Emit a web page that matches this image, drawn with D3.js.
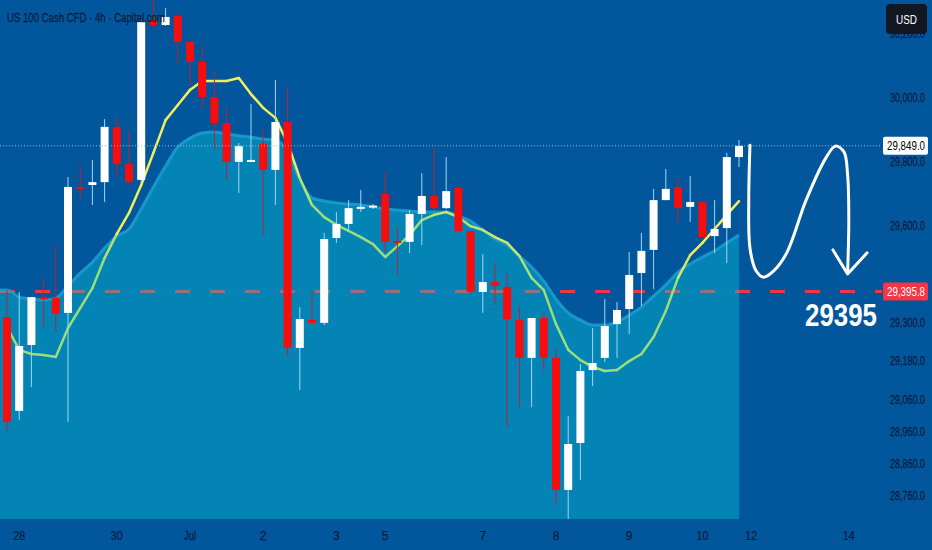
<!DOCTYPE html>
<html>
  <head>
    <meta charset="UTF-8" />
    <style>
      body { margin: 0; background-color: #02569c; overflow: hidden; }
      svg { display: block; }
      text { font-family: "Liberation Sans", Arial, sans-serif; }
    </style>
  </head>
  <body>
    <svg></svg>
    <script src="https://d3js.org/d3.v7.min.js"></script>
    <script>
      // 4h candles, US 100 Cash CFD
      const candleOpen = [29316, 29024, 29229, 29378, 29375, 29329, 29721, 29727, 29736, 29908,
        29792, 29743, 30241, 30225, 30253, 30172, 30110, 30001, 29920, 29799,
        29799, 29855, 29774, 29923, 29220, 29307, 29298, 29562, 29606, 29655,
        29659, 29699, 29553, 29550, 29637, 29693, 29655, 29718, 29584, 29394,
        29425, 29410, 29307, 29189, 29313, 29189, 28778, 28924, 29151, 29189,
        29294, 29341, 29453, 29525, 29680, 29721, 29659, 29674, 29568, 29593, 29814];
      const candleHigh = [29400, 29394, 29378, 29438, 29540, 29752, 29789, 29805, 29932, 29939,
        29895, 30240, 30303, 30278, 30265, 30175, 30163, 30079, 29970, 29858,
        29979, 29898, 30054, 30032, 29347, 29394, 29578, 29643, 29680, 29711,
        29668, 29768, 29596, 29649, 29764, 29845, 29814, 29724, 29584, 29512,
        29481, 29453, 29347, 29313, 29329, 29220, 29008, 29170, 29282, 29372,
        29363, 29519, 29578, 29715, 29777, 29749, 29755, 29674, 29680, 29827, 29867];
      const candleLow = [28958, 28996, 29098, 29285, 29270, 28990, 29680, 29665, 29674, 29749,
        29727, 29735, 30213, 30222, 30107, 30038, 29967, 29836, 29743, 29702,
        29799, 29571, 29665, 29192, 29089, 29291, 29291, 29547, 29587, 29643,
        29652, 29518, 29447, 29515, 29540, 29649, 29652, 29578, 29388, 29329,
        29354, 28974, 29036, 29036, 29151, 28731, 28684, 28809, 29101, 29176,
        29189, 29263, 29350, 29403, 29680, 29609, 29612, 29565, 29515, 29484, 29783];
      const candleClose = [28989, 29226, 29378, 29372, 29326, 29721, 29715, 29736, 29908, 29792,
        29736, 30234, 30225, 30250, 30172, 30110, 30001, 29920, 29799, 29848,
        29805, 29774, 29923, 29220, 29310, 29298, 29559, 29606, 29655, 29659,
        29663, 29550, 29550, 29637, 29693, 29655, 29708, 29584, 29394, 29425,
        29413, 29310, 29189, 29313, 29189, 28778, 28921, 29148, 29173, 29288,
        29338, 29447, 29522, 29680, 29715, 29655, 29674, 29565, 29590, 29814, 29849];

      // fast moving average (yellow / green line)
      const maFast = [29285, 29214, 29201, 29198, 29192, 29282, 29344, 29406, 29500, 29575,
        29640, 29727, 29827, 29929, 29976, 30023, 30051, 30051, 30051, 30060,
        30010, 29967, 29936, 29858, 29749, 29665, 29627, 29603, 29584, 29565,
        29543, 29503, 29537, 29571, 29618, 29634, 29643, 29627, 29599, 29587,
        29565, 29547, 29506, 29438, 29400, 29294, 29214, 29182, 29161, 29148,
        29151, 29179, 29201, 29254, 29335, 29438, 29509, 29547, 29590, 29634, 29677];

      // slow moving average (top of the filled cloud)
      const maSlow = [29400, 29378, 29372, 29369, 29375, 29413, 29453, 29487, 29531, 29568,
        29590, 29652, 29721, 29786, 29845, 29873, 29889, 29892, 29886, 29880,
        29876, 29870, 29867, 29830, 29743, 29687, 29677, 29671, 29668, 29665,
        29659, 29652, 29649, 29646, 29643, 29643, 29643, 29631, 29615, 29587,
        29559, 29540, 29506, 29472, 29428, 29372, 29329, 29307, 29291, 29291,
        29301, 29322, 29347, 29382, 29416, 29456, 29481, 29503, 29522, 29547, 29571];

      const dayLabels = ["28", "30", "Jul", "2", "3", "5", "7", "8", "9", "10", "12", "14"];
      const dayIndex = [1, 9, 15, 21, 27, 31, 39, 45, 51, 57, 61, 69];
      const priceTicks = [30200, 30000, 29800, 29600, 29300, 29180, 29060, 28960, 28860, 28760];

      const lastPrice = 29849.0;
      const targetLevel = 29395.8;
      const targetText = "29395";

      // hand drawn projection, [bar index, price]
      const drawIdx = [60.9, 60.8, 60.9, 61.4, 62.0, 62.8, 63.9, 65.5, 67.1, 67.9, 68.6, 68.9, 69.0, 68.9];
      const drawPrice = [29851, 29680, 29530, 29460, 29440, 29458, 29515, 29680, 29810, 29848, 29830, 29760, 29620, 29453];
      const arrowIdx = [67.7, 68.9, 70.5];
      const arrowPrice = [29525, 29450, 29516];

      const width = 932,
        height = 550,
        plotRight = 882,
        plotBottom = 519;

      const svg = d3.select("svg").attr("width", width).attr("height", height);

      const x = d3.scaleLinear().domain([0, 60]).range([7, 739]);
      const y = d3.scaleLinear().domain([30000, 28760]).range([97.3, 495.7]);

      const n = candleOpen.length;
      const bars = d3.range(n).map((i) => ({
        i: i,
        o: candleOpen[i],
        h: candleHigh[i],
        l: candleLow[i],
        c: candleClose[i],
      }));

      // squeeze a text horizontally so it is as narrow as in the screenshot
      function squeeze(sel, w, ax) {
        sel.each(function () {
          const t = d3.select(this);
          const k = Math.min(1, w / this.getComputedTextLength());
          const px = ax != null ? ax : +t.attr("x");
          t.attr("transform", "translate(" + px + ",0) scale(" + k + ",1) translate(" + -px + ",0)");
        });
      }

      const defs = svg.append("defs");
      defs.append("clipPath").attr("id", "plotClip")
        .append("rect").attr("x", 0).attr("y", 0).attr("width", plotRight).attr("height", plotBottom);

      const plot = svg.append("g").attr("clip-path", "url(#plotClip)");

      // target level (under the cloud so it shows muted there)
      plot.append("line")
        .attr("x1", 0).attr("x2", plotRight)
        .attr("y1", y(targetLevel)).attr("y2", y(targetLevel))
        .attr("stroke", "#f23645")
        .attr("stroke-width", 3)
        .attr("stroke-dasharray", "15 20");

      // cloud
      const slowPts = maSlow.map((v, i) => [x(i), y(v)]);
      slowPts.unshift([0, y(maSlow[0])]);
      const area = d3.area()
        .x((d) => d[0])
        .y0(plotBottom)
        .y1((d) => d[1])
        .curve(d3.curveMonotoneX);
      plot.append("path")
        .datum(slowPts)
        .attr("d", area)
        .attr("fill", "#08cbdc")
        .attr("fill-opacity", 0.4);
      plot.append("path")
        .datum(slowPts)
        .attr("d", d3.line().curve(d3.curveMonotoneX))
        .attr("fill", "none")
        .attr("stroke", "#1c9fd0")
        .attr("stroke-opacity", 0.85)
        .attr("stroke-width", 3);

      // fast ma, yellow while above the cloud, green below it
      const maColor = d3.scaleLinear()
        .domain([-25, 25])
        .range(["#9ade7a", "#f4ee5c"])
        .clamp(true);
      const segs = d3.range(n - 1).map((i) => ({
        a: [x(i), y(maFast[i])],
        b: [x(i + 1), y(maFast[i + 1])],
        diff: (maFast[i] + maFast[i + 1] - maSlow[i] - maSlow[i + 1]) / 2,
      }));
      plot.append("g").selectAll("line").data(segs).join("line")
        .attr("x1", (d) => d.a[0]).attr("y1", (d) => d.a[1])
        .attr("x2", (d) => d.b[0]).attr("y2", (d) => d.b[1])
        .attr("stroke", (d) => maColor(d.diff))
        .attr("stroke-width", 2.5)
        .attr("stroke-linecap", "round");

      // candles
      const bodyW = 8;
      const candle = plot.append("g").selectAll("g").data(bars).join("g");
      candle.append("line")
        .attr("x1", (d) => x(d.i)).attr("x2", (d) => x(d.i))
        .attr("y1", (d) => y(d.h)).attr("y2", (d) => y(d.l))
        .attr("stroke", (d) => (d.c >= d.o ? "#9ed6f2" : "#b8223c"))
        .attr("stroke-width", 1);
      candle.append("rect")
        .attr("x", (d) => x(d.i) - bodyW / 2)
        .attr("width", bodyW)
        .attr("y", (d) => y(Math.max(d.o, d.c)))
        .attr("height", (d) => Math.max(2, Math.abs(y(d.o) - y(d.c))))
        .attr("fill", (d) => (d.c >= d.o ? "#ffffff" : "#f70d0d"));

      // last price dotted line
      svg.append("line")
        .attr("x1", 0).attr("x2", plotRight)
        .attr("y1", y(lastPrice)).attr("y2", y(lastPrice))
        .attr("stroke", "#8cbbe6")
        .attr("stroke-width", 1)
        .attr("stroke-dasharray", "1 2");

      // drawing
      const drawPts = drawIdx.map((d, i) => [x(d), y(drawPrice[i])]);
      svg.append("path")
        .attr("d", d3.line().curve(d3.curveCatmullRom.alpha(0.5))(drawPts))
        .attr("fill", "none")
        .attr("stroke", "#ffffff")
        .attr("stroke-width", 3)
        .attr("stroke-linecap", "round");
      svg.append("path")
        .attr("d", d3.line()(arrowIdx.map((d, i) => [x(d), y(arrowPrice[i])])))
        .attr("fill", "none")
        .attr("stroke", "#ffffff")
        .attr("stroke-width", 3)
        .attr("stroke-linecap", "round")
        .attr("stroke-linejoin", "round");

      svg.append("text")
        .attr("x", 877)
        .attr("y", y(targetLevel) + 35)
        .attr("text-anchor", "end")
        .attr("fill", "#ffffff")
        .attr("font-size", 32)
        .attr("font-weight", "bold")
        .text(targetText)
        .call(squeeze, 72);

      // price axis
      const fmt = d3.format(",.1f");
      svg.append("g").selectAll("text").data(priceTicks).join("text")
        .attr("x", 925)
        .attr("y", (d) => y(d) + 4.5)
        .attr("text-anchor", "end")
        .attr("fill", "#0c1d3d")
        .attr("stroke", "#0c1d3d")
        .attr("stroke-width", 0.25)
        .attr("font-size", 12.5)
        .text((d) => fmt(d))
        .call(squeeze, 35);

      // date axis
      svg.append("g").selectAll("text").data(dayLabels).join("text")
        .attr("x", (d, i) => x(dayIndex[i]))
        .attr("y", 540)
        .attr("text-anchor", "middle")
        .attr("fill", "#0c1d3d")
        .attr("stroke", "#0c1d3d")
        .attr("stroke-width", 0.25)
        .attr("font-size", 12)
        .text((d) => d)
        .call(squeeze, 12);

      // price tags
      function tag(value, bg, fg) {
        const g = svg.append("g").attr("transform", "translate(883," + (y(value) - 9) + ")");
        g.append("rect").attr("width", 45).attr("height", 18).attr("rx", 2).attr("fill", bg);
        g.append("text")
          .attr("x", 42).attr("y", 13.5)
          .attr("text-anchor", "end")
          .attr("fill", fg)
          .attr("font-size", 12.5)
          .text(fmt(value))
          .call(squeeze, 38);
      }
      tag(lastPrice, "#ffffff", "#000000");
      tag(targetLevel, "#f23645", "#ffffff");

      // currency badge
      const usd = svg.append("g").attr("transform", "translate(886,4)");
      usd.append("rect").attr("width", 41).attr("height", 30).attr("rx", 4).attr("fill", "#131722");
      usd.append("text")
        .attr("x", 20.5).attr("y", 20)
        .attr("text-anchor", "middle")
        .attr("fill", "#ffffff")
        .attr("font-size", 13)
        .text("USD")
        .call(squeeze, 21);

      // title
      svg.append("text")
        .attr("x", 7)
        .attr("y", 22)
        .attr("fill", "#0c1d3d")
        .attr("stroke", "#0c1d3d")
        .attr("stroke-width", 0.25)
        .attr("font-size", 13.5)
        .text("US 100 Cash CFD · 4h · Capital.com")
        .call(squeeze, 158);
    </script>
  </body>
</html>
